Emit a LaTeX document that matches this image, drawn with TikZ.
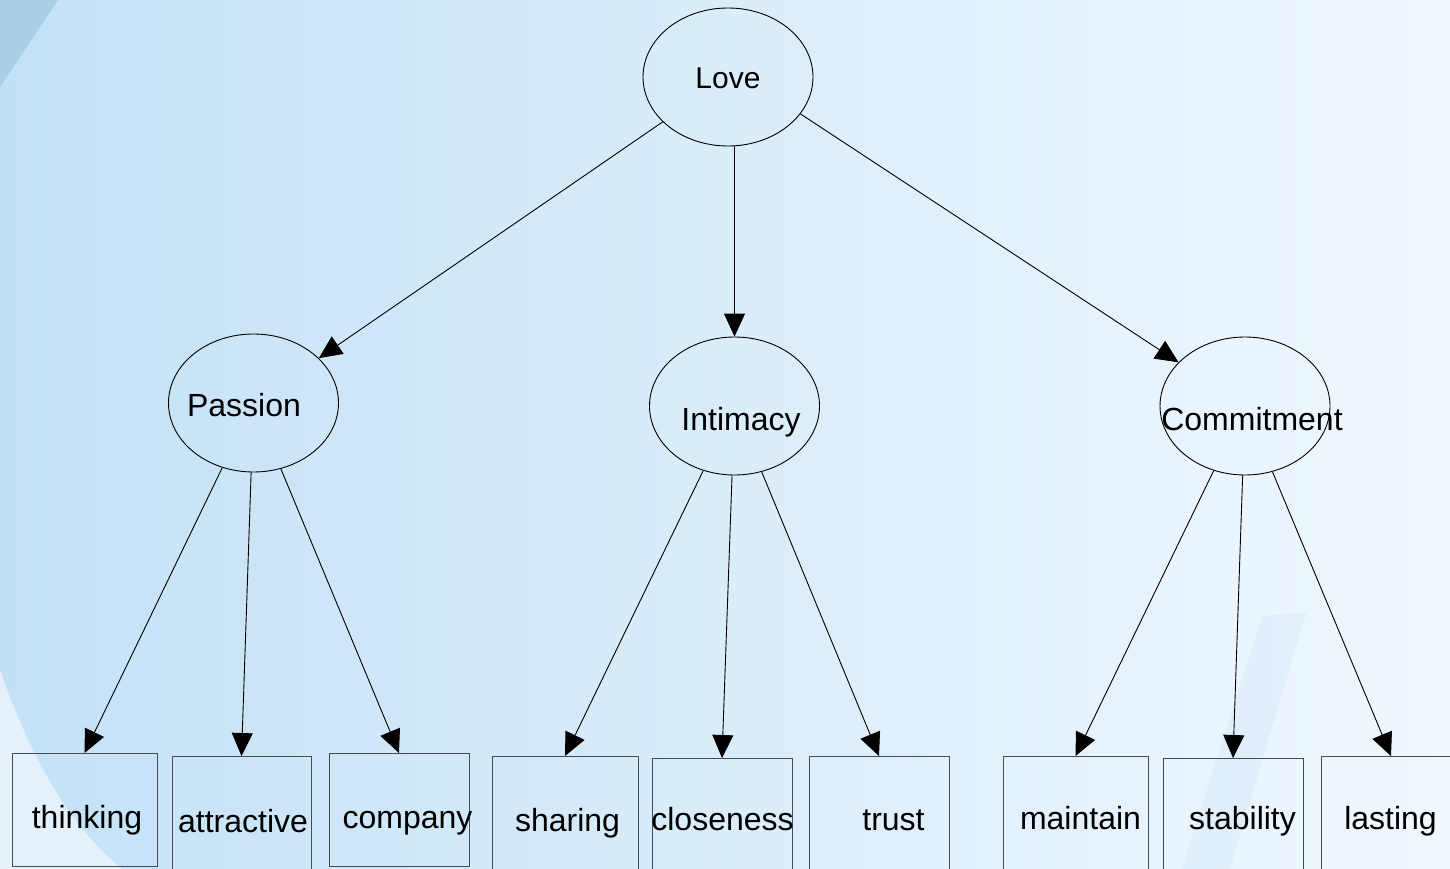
\documentclass[tikz,border=0pt]{standalone}
\usepackage{fontspec}
\setmainfont{Liberation Sans}
\usetikzlibrary{shapes.geometric,arrows.meta}

\definecolor{bgleft}{HTML}{C3E1F6}
\definecolor{bgright}{HTML}{F1F8FE}
\definecolor{wedgeblue}{HTML}{A8CFE6}
\definecolor{cornerlight}{HTML}{E4F1FA}
\definecolor{streakblue}{HTML}{CCE1F1}
\definecolor{boxgray}{HTML}{454C55}

\begin{document}
\begin{tikzpicture}[x=1pt,y=-1pt,
  concept/.style={ellipse,draw=black,line width=0.9pt,inner sep=0pt,
                  minimum width=170pt,minimum height=138pt},
  itembox/.style={rectangle,draw=boxgray,line width=1pt,inner sep=0pt,
                  minimum width=#1,minimum height=113pt,anchor=north},
  itembox/.default=140pt,
  lbl/.style={inner sep=0pt,anchor=base,font=\fontsize{32}{38}\selectfont},
  toplbl/.style={inner sep=0pt,anchor=base,font=\fontsize{30}{36}\selectfont},
  link/.style={-{Triangle[length=23pt,width=21pt]},line width=0.9pt,draw=black}]

\useasboundingbox (0,0) rectangle (1450,869);

% background
\shade[left color=bgleft,right color=bgright] (0,0) rectangle (1450,869);
\fill[wedgeblue] (0,0) -- (58,0) -- (0,87) -- cycle;
\fill[cornerlight] (0,670) .. controls (35,770) and (75,830) .. (122,869) -- (0,869) -- cycle;
\fill[streakblue,opacity=0.3] (1262,616) -- (1306,613) -- (1230,869) -- (1182,869) -- cycle;

% concepts
\node[concept] (Love) at (728,77) {};
\node[toplbl] (LoveT) at (728,89) {Love};
\node[concept] (Passion) at (253.5,403) {};
\node[lbl] (PassionT) at (244,416) {Passion};
\node[concept] (Intimacy) at (734.5,406) {};
\node[lbl] (IntimacyT) at (741,430) {Intimacy};
\node[concept] (Commitment) at (1245,406) {};
\node[lbl] (CommitmentT) at (1252,430) {Commitment};

% items
\node[itembox=145pt] (thinking) at (84.5,753) {};
\node[lbl] (thinkingT) at (87,828) {thinking};
\node[itembox=139pt] (attractive) at (241.5,756) {};
\node[lbl] (attractiveT) at (243,832) {attractive};
\node[itembox] (company) at (399,753) {};
\node[lbl] (companyT) at (407.5,828) {company};
\node[itembox=146pt] (sharing) at (565,756) {};
\node[lbl] (sharingT) at (567.5,831) {sharing};
\node[itembox] (closeness) at (722,758) {};
\node[lbl] (closenessT) at (722.5,830) {closeness};
\node[itembox] (trust) at (879,756) {};
\node[lbl] (trustT) at (893.5,830) {trust};
\node[itembox=145pt] (maintain) at (1075.5,756) {};
\node[lbl] (maintainT) at (1080.5,829) {maintain};
\node[itembox] (stability) at (1233,758) {};
\node[lbl] (stabilityT) at (1242.5,829) {stability};
\node[itembox] (lasting) at (1391,756) {};
\node[lbl] (lastingT) at (1390.5,829) {lasting};

% connectors
\draw[link] (Love) -- (Passion);
\draw[link] (Love.south -| Intimacy.north) -- (Intimacy.north);
\draw[link] (Love.-27) -- (Commitment);

\draw[link] (Passion) -- (thinking.north);
\draw[link] (Passion) -- (attractive.north);
\draw[link] (Passion) -- (company.north);

\draw[link] (Intimacy) -- (sharing.north);
\draw[link] (Intimacy) -- (closeness.north);
\draw[link] (Intimacy) -- (trust.north);

\draw[link] (Commitment) -- (maintain.north);
\draw[link] (Commitment) -- (stability.north);
\draw[link] (Commitment) -- (lasting.north);
\end{tikzpicture}
\end{document}
